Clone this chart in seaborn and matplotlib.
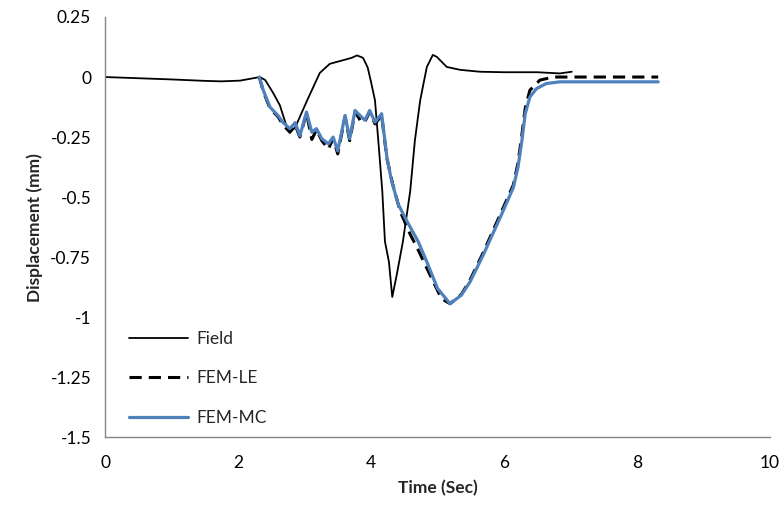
import matplotlib
matplotlib.use("Agg")
import matplotlib.pyplot as plt
import seaborn as sns

# 데이터
field_t = [0, 0.5, 1.0, 1.5, 1.75, 2.03, 2.33, 2.41, 2.53, 2.63, 2.74, 2.78, 2.86, 3.04,
           3.23, 3.38, 3.58, 3.71, 3.79, 3.88, 3.95, 4.0, 4.06, 4.11, 4.17, 4.21, 4.27,
           4.32, 4.39, 4.48, 4.59, 4.66, 4.74, 4.84, 4.93, 4.99, 5.14, 5.34, 5.64, 6.0,
           6.5, 6.84, 7.02]
field_d = [0, -0.005, -0.01, -0.016, -0.018, -0.015, 0, -0.013, -0.067, -0.118, -0.214,
           -0.23, -0.21, -0.097, 0.017, 0.055, 0.07, 0.08, 0.09, 0.08, 0.04, -0.02, -0.097,
           -0.265, -0.475, -0.685, -0.77, -0.916, -0.82, -0.685, -0.475, -0.265, -0.097,
           0.042, 0.092, 0.084, 0.042, 0.03, 0.022, 0.02, 0.02, 0.015, 0.022]

le_t = [2.32, 2.38, 2.48, 2.6, 2.68, 2.78, 2.86, 2.93, 3.03, 3.11, 3.18, 3.26, 3.36, 3.43,
        3.5, 3.61, 3.68, 3.76, 3.86, 3.91, 3.98, 4.06, 4.16, 4.24, 4.33, 4.44, 4.59, 4.71,
        4.89, 5.06, 5.19, 5.36, 5.49, 5.69, 5.94, 6.14, 6.21, 6.27, 6.32, 6.39, 6.54, 6.74,
        8.32]
le_d = [0, -0.06, -0.13, -0.165, -0.2, -0.23, -0.2, -0.25, -0.15, -0.26, -0.22, -0.265,
        -0.3, -0.255, -0.32, -0.165, -0.265, -0.145, -0.19, -0.185, -0.145, -0.195, -0.16,
        -0.34, -0.45, -0.56, -0.655, -0.72, -0.825, -0.923, -0.944, -0.905, -0.845, -0.73,
        -0.575, -0.45, -0.36, -0.24, -0.13, -0.055, -0.013, 0.0, 0.0]

mc_t = [2.32, 2.38, 2.48, 2.6, 2.68, 2.78, 2.86, 2.93, 3.03, 3.11, 3.18, 3.26, 3.36, 3.43,
        3.5, 3.61, 3.68, 3.76, 3.86, 3.91, 3.98, 4.06, 4.16, 4.24, 4.31, 4.41, 4.54, 4.71,
        4.84, 5.0, 5.19, 5.36, 5.49, 5.69, 5.94, 6.14, 6.21, 6.27, 6.32, 6.39, 6.49, 6.64,
        6.84, 8.32]
mc_d = [0, -0.055, -0.125, -0.16, -0.19, -0.215, -0.19, -0.245, -0.146, -0.23, -0.215,
        -0.257, -0.278, -0.25, -0.307, -0.16, -0.257, -0.139, -0.167, -0.18, -0.139, -0.188,
        -0.153, -0.335, -0.433, -0.53, -0.6, -0.685, -0.77, -0.88, -0.944, -0.908, -0.853,
        -0.74, -0.587, -0.461, -0.377, -0.265, -0.153, -0.083, -0.048, -0.027, -0.02, -0.02]

x_ticks = [0, 2, 4, 6, 8, 10]
y_ticks = [0.25, 0, -0.25, -0.5, -0.75, -1, -1.25, -1.5]
y_tick_labels = ["0.25", "0", "-0.25", "-0.5", "-0.75", "-1", "-1.25", "-1.5"]

sns.set_style("white")
plt.rcParams['font.family'] = ['Lato', 'DejaVu Sans']

fig = plt.figure(figsize=(7.84, 5.15), dpi=100)
ax = fig.add_axes([0.134, 0.151, 0.848, 0.816])

sns.lineplot(x=field_t, y=field_d, ax=ax, sort=False, estimator=None,
             color="black", linewidth=1.3, label="Field")
sns.lineplot(x=le_t, y=le_d, ax=ax, sort=False, estimator=None,
             color="black", linewidth=2.2, label="FEM-LE")
ax.lines[-1].set_dashes((4, 2.3))
sns.lineplot(x=mc_t, y=mc_d, ax=ax, sort=False, estimator=None,
             color="#4F81BD", linewidth=2.3, label="FEM-MC")

ax.set_xlim(0, 10)
ax.set_ylim(-1.5, 0.25)
ax.set_xticks(x_ticks)
ax.set_yticks(y_ticks)
ax.set_yticklabels(y_tick_labels)
ax.tick_params(axis="both", direction="out", length=5, width=1, color="#868686",
               labelsize=12.5, labelcolor="black", pad=5)
ax.tick_params(axis="x", pad=8)

for side in ["top", "right"]:
    ax.spines[side].set_visible(False)
for side in ["left", "bottom"]:
    ax.spines[side].set_color("#868686")
    ax.spines[side].set_linewidth(1)

ax.set_xlabel("Time (Sec)", fontsize=12.5, fontweight="bold", labelpad=6)
ax.set_ylabel("Displacement (mm)", fontsize=12.5, fontweight="bold", labelpad=5)

ax.legend(loc="upper left", bbox_to_anchor=(0.012, 0.29), frameon=False,
          fontsize=12.5, handlelength=3.4, labelspacing=1.35, handletextpad=0.5)

fig.savefig("out.png", dpi=100)
